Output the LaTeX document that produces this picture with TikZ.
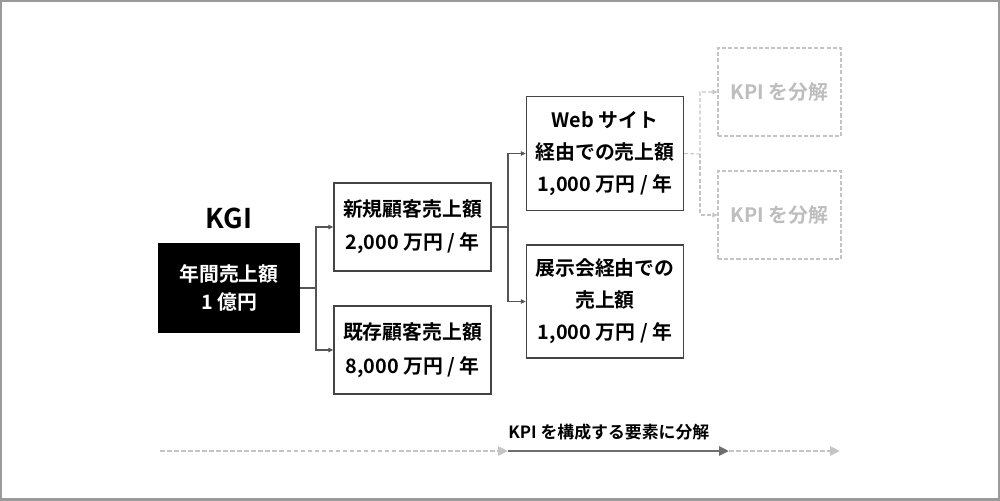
\documentclass[tikz,border=0pt]{standalone}
\usepackage{fontspec}
\setmainfont{Noto Sans CJK JP}[BoldFont={* Bold}]
\usepackage{tikz}
\usetikzlibrary{arrows.meta}
\definecolor{boxline}{HTML}{444444}
\definecolor{tieline}{HTML}{555555}
\definecolor{ghost}{HTML}{C4C4C4}
\definecolor{ghosttext}{HTML}{BDBDBD}
\definecolor{flowdark}{HTML}{6E6E6E}
\definecolor{frame}{HTML}{9A9A9A}
\tikzset{
  kpibox/.style   = {draw=boxline, line width=0.8pt, align=center, text=black,
                     font=\fontsize{11.3}{19}\selectfont\bfseries,
                     minimum width=3.14cm, minimum height=1.76cm, inner sep=0pt},
  kgibox/.style   = {kpibox, fill=black, draw=black, text=white,
                     font=\fontsize{11.3}{16}\selectfont\bfseries,
                     minimum width=2.8cm},
  ghostbox/.style = {draw=ghost, dashed, dash pattern=on 2.3pt off 1.2pt,
                     line width=0.6pt, text=ghosttext,
                     font=\fontsize{11.3}{19}\selectfont\bfseries,
                     minimum width=2.46cm, minimum height=1.76cm, inner sep=0pt},
  tiear/.style    = {-{Triangle[length=1mm,width=0.9mm]}, tieline, line width=0.6pt},
  ghostar/.style  = {tiear, ghost, dash pattern=on 2.3pt off 1.2pt},
  flowdash/.style = {-{Triangle[length=2mm,width=1.8mm]}, ghost, line width=1.5pt,
                     dash pattern=on 2.6pt off 1.4pt},
  flowline/.style = {-{Triangle[length=2mm,width=1.8mm]}, flowdark, line width=1.6pt}
}

\begin{document}
\begin{tikzpicture}[x=0.02cm,y=-0.02cm]
  \useasboundingbox (0,0) rectangle (1000,500);
  \draw[frame, line width=1.2pt] (0.5,0.5) rectangle (999.5,499.5);

  % KGI
  \node[font=\fontsize{15.5}{18}\selectfont\bfseries] (kgilabel) at (229,218) {KGI};
  \node[kgibox] (kgi) at (229,288) {年間売上額\\1 億円};

  % first split
  \node[kpibox] (newsales) at (412.5,227) {新規顧客売上額\\2,000 万円 / 年};
  \node[kpibox] (oldsales) at (412.5,350) {既存顧客売上額\\8,000 万円 / 年};

  % second split
  \node[kpibox, minimum height=2.28cm, font=\fontsize{11.3}{18}\selectfont\bfseries]
        (websales) at (605,153.5) {Web サイト\\経由での売上額\\1,000 万円 / 年};
  \node[kpibox, minimum height=2.26cm, font=\fontsize{11.3}{18.3}\selectfont\bfseries]
        (expo) at (605,301.5) {展示会経由での\\売上額\\1,000 万円 / 年};

  % further KPIs
  \node[ghostbox] (kpia) at (779.5,92)  {KPI を分解};
  \node[ghostbox] (kpib) at (779.5,215) {KPI を分解};

  % connectors
  \coordinate (j1) at (316,288);
  \coordinate (j2) at (508,227);
  \coordinate (j3) at (700,154);
  \draw[tiear] (kgi.east) -- (j1) |- (newsales.west);
  \draw[tiear] (j1) |- (oldsales.west);
  \draw[tiear] (newsales.east) -- (j2) |- (websales.west);
  \draw[tiear] (j2) |- (expo.west);
  \draw[ghostar] (websales.east) -- (j3) |- (kpia.west);
  \draw[ghostar] (j3) |- (kpib.west);

  % flow along the bottom
  \coordinate (f0) at (160,451);
  \coordinate (f1) at (508,451);
  \coordinate (f2) at (729,451);
  \coordinate (f3) at (840,451);
  \draw[flowdash] (f0) -- (f1);
  \draw[flowline] (f1) -- (f2);
  \draw[flowdash] (f2) -- (f3);
  \node[anchor=west, inner sep=0pt, font=\fontsize{9.6}{12}\selectfont\bfseries]
        (flowlabel) at (508,432) {KPI を構成する要素に分解};
\end{tikzpicture}
\end{document}
